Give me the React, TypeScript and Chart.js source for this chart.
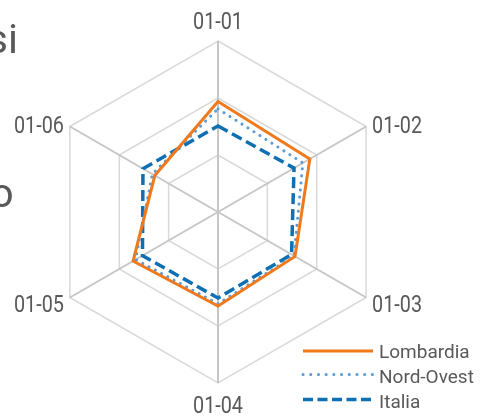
import React, { useEffect, useRef } from "react";
import { Chart, registerables } from "chart.js";

Chart.register(...registerables);

// ---- data ----
const categories = ["01-01", "01-02", "01-03", "01-04", "01-05", "01-06"];
const seriesNames = ["Lombardia", "Nord-Ovest", "Italia"];
const lombardia = [19.4, 18.6, 15.6, 16.5, 17.2, 12.8];
const nordOvest = [18.1, 17.2, 15.4, 16.1, 16.7, 13.3];
const italia = [15.1, 15.4, 14.9, 15.1, 15.3, 15.2];
const scaleMin = 0;
const scaleMax = 30;
const scaleStep = 10;
const sideTexts = ["casi", "o"];

// ---- styles ----
const ORANGE = "#EF7A1E";
const LIGHT_BLUE = "#5B9BD5";
const DARK_BLUE = "#0E70B3";
const TEXT = "#595959";

const pointLabelPlugin = {
  id: "customPointLabels",
  afterDraw(chart: any) {
    const scale = chart.scales.r;
    const ctx = chart.ctx;
    const labels: string[] = chart.data.labels;
    ctx.save();
    ctx.fillStyle = TEXT;
    ctx.font = "23px Roboto";
    ctx.textBaseline = "alphabetic";
    labels.forEach((lab, i) => {
      const p = scale.getPointPosition(i, scale.drawingArea);
      const dx = p.x - scale.xCenter;
      const dy = p.y - scale.yCenter;
      let x = p.x;
      let y = p.y;
      let align: CanvasTextAlign = "center";
      if (Math.abs(dx) < 1) {
        align = "center";
        y = dy < 0 ? p.y - 12 : p.y + 30;
      } else {
        align = dx > 0 ? "left" : "right";
        x = dx > 0 ? p.x + 6 : p.x - 6;
        y = dy < 0 ? p.y + 6 : p.y + 14;
      }
      ctx.save();
      ctx.translate(x, y);
      ctx.scale(0.86, 1);
      ctx.textAlign = align;
      ctx.fillText(lab, 0, 0);
      ctx.restore();
    });
    ctx.restore();
  },
};

function RadarChart() {
  const ref = useRef<HTMLCanvasElement | null>(null);
  useEffect(() => {
    if (!ref.current) return;
    const chart = new Chart(ref.current, {
      type: "radar",
      data: {
        labels: categories,
        datasets: [
          {
            label: seriesNames[0],
            data: lombardia,
            borderColor: ORANGE,
            borderWidth: 3,
            fill: false,
            pointRadius: 0,
            borderJoinStyle: "miter",
          },
          {
            label: seriesNames[1],
            data: nordOvest,
            borderColor: LIGHT_BLUE,
            borderWidth: 3,
            borderDash: [0.1, 7],
            borderCapStyle: "round",
            fill: false,
            pointRadius: 0,
          },
          {
            label: seriesNames[2],
            data: italia,
            borderColor: DARK_BLUE,
            borderWidth: 3.5,
            borderDash: [11, 5],
            fill: false,
            pointRadius: 0,
            borderJoinStyle: "miter",
          },
        ],
      } as any,
      options: {
        responsive: false,
        animation: false,
        layout: { padding: { top: 41, bottom: 34, left: 0, right: 48 } },
        plugins: { legend: { display: false }, tooltip: { enabled: false } },
        elements: { line: { tension: 0 }, point: { radius: 0 } },
        scales: {
          r: {
            min: scaleMin,
            max: scaleMax,
            ticks: { stepSize: scaleStep, display: false },
            grid: { color: "#D9D9D9", lineWidth: 1.5 },
            angleLines: { color: "#C6C6C6", lineWidth: 2 },
            pointLabels: { display: false },
          },
        },
      } as any,
      plugins: [pointLabelPlugin],
    });
    return () => chart.destroy();
  }, []);
  return <canvas ref={ref} width={484} height={417} style={{ display: "block", width: 484, height: 417 }} />;
}

export default function App() {
  const legendRows = [
    { name: seriesNames[0], color: ORANGE, width: 3, dash: undefined as string | undefined, cap: "butt" as const, lineY: 351, textY: 358 },
    { name: seriesNames[1], color: LIGHT_BLUE, width: 3, dash: "0.1 7.6", cap: "round" as const, lineY: 374.5, textY: 383 },
    { name: seriesNames[2], color: DARK_BLUE, width: 3.5, dash: "10 4.5", cap: "butt" as const, lineY: 399.5, textY: 408 },
  ];
  return (
    <div style={{ position: "absolute", left: 0, top: 0, width: 484, height: 417, overflow: "hidden", background: "#fff" }}>
      <RadarChart />
      <svg width={484} height={417} style={{ position: "absolute", left: 0, top: 0, pointerEvents: "none" }}>
        <text x={18} y={53} textAnchor="end" fontFamily="Roboto" fontSize={41} fill={TEXT}>{sideTexts[0]}</text>
        <text x={13.6} y={207} textAnchor="end" fontFamily="Roboto" fontSize={41} fill={TEXT}>{sideTexts[1]}</text>
        {legendRows.map((r) => (
          <g key={r.name}>
            <line x1={303} x2={373} y1={r.lineY} y2={r.lineY} stroke={r.color} strokeWidth={r.width} strokeDasharray={r.dash} strokeLinecap={r.cap} />
            <text x={379} y={r.textY} fontFamily="Roboto" fontSize={19} fill={TEXT}>{r.name}</text>
          </g>
        ))}
      </svg>
    </div>
  );
}
